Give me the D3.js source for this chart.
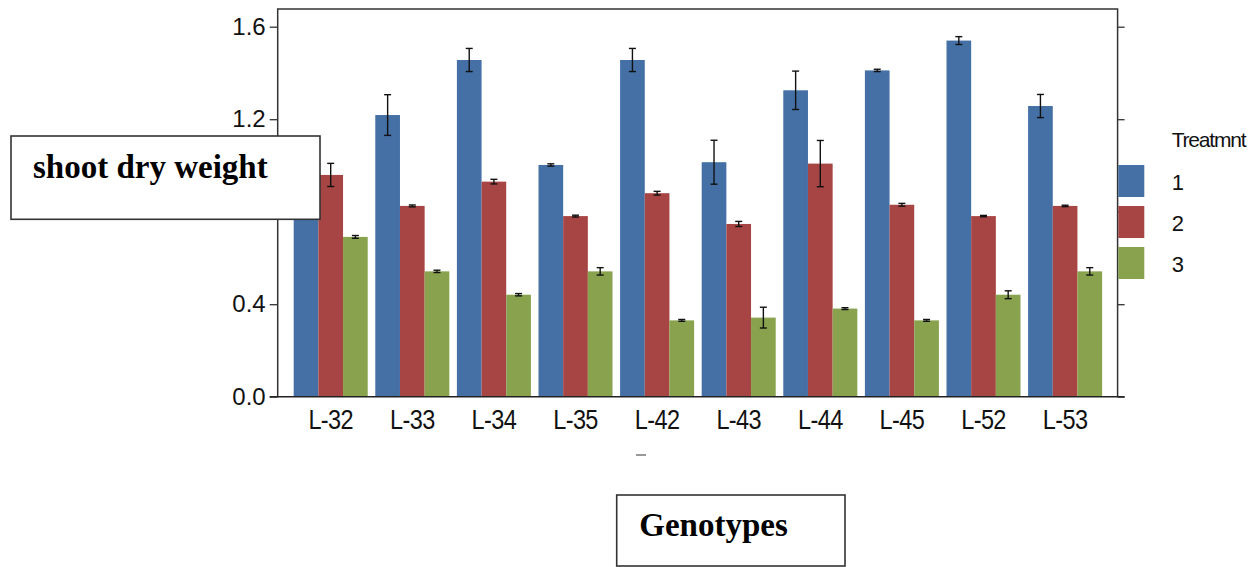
<!DOCTYPE html>
<html>
<head>
<meta charset="utf-8">
<script src="https://cdn.jsdelivr.net/npm/d3@7"></script>
<style>
  html, body { margin: 0; padding: 0; background: #fff; }
  svg { display: block; }
</style>
</head>
<body>
<svg id="chart" width="1260" height="567"></svg>
<script>
// Genotypes on the x axis
const genotypes = ["L-32", "L-33", "L-34", "L-35", "L-42", "L-43", "L-44", "L-45", "L-52", "L-53"];
const treatments = ["1", "2", "3"];

// Mean shoot dry weight per treatment
const treat1 = [1.00, 1.218, 1.456, 1.002, 1.456, 1.014, 1.325, 1.411, 1.540, 1.257];
const treat2 = [0.959, 0.825, 0.930, 0.781, 0.880, 0.747, 1.008, 0.830, 0.781, 0.825];
const treat3 = [0.691, 0.542, 0.441, 0.542, 0.330, 0.342, 0.381, 0.330, 0.441, 0.542];

// Error (± half-range) per treatment
const err1 = [0.05, 0.088, 0.050, 0.005, 0.050, 0.095, 0.083, 0.005, 0.017, 0.050];
const err2 = [0.05, 0.004, 0.010, 0.004, 0.008, 0.011, 0.100, 0.006, 0.003, 0.003];
const err3 = [0.006, 0.005, 0.005, 0.016, 0.004, 0.045, 0.004, 0.004, 0.017, 0.016];

const yTicks = [0.0, 0.4, 0.8, 1.2, 1.6];
const colors = ["#4470A6", "#A64544", "#88A24D"];

const svg = d3.select("#chart");

const plot = { left: 277.7, right: 1117.6, top: 9, bottom: 396.7 };

const y = d3.scaleLinear().domain([0, 1.6]).range([plot.bottom, 26.7]);
const x = d3.scaleBand().domain(genotypes)
  .range([289.9, 1105.9]).paddingInner(0.093).paddingOuter(0.0465);
const xs = d3.scaleBand().domain(treatments).range([0, x.bandwidth()]);

const series = [
  { key: "1", vals: treat1, errs: err1 },
  { key: "2", vals: treat2, errs: err2 },
  { key: "3", vals: treat3, errs: err3 }
];

// Bars
const groups = svg.append("g").selectAll("g")
  .data(genotypes).join("g")
  .attr("transform", d => `translate(${x(d)},0)`);

groups.each(function (g, gi) {
  const sel = d3.select(this);
  series.forEach((s, si) => {
    const v = s.vals[gi];
    sel.append("rect")
      .attr("x", xs(s.key))
      .attr("y", y(v))
      .attr("width", xs.bandwidth())
      .attr("height", y(0) - y(v))
      .attr("fill", colors[si]);
  });
});

// Error bars
groups.each(function (g, gi) {
  const sel = d3.select(this);
  series.forEach((s, si) => {
    const v = s.vals[gi], e = s.errs[gi];
    const cx = xs(s.key) + xs.bandwidth() / 2;
    const eb = sel.append("g").attr("stroke", "#111").attr("stroke-width", 1.4);
    eb.append("line").attr("x1", cx).attr("x2", cx).attr("y1", y(v - e)).attr("y2", y(v + e));
    eb.append("line").attr("x1", cx - 3.5).attr("x2", cx + 3.5).attr("y1", y(v - e)).attr("y2", y(v - e));
    eb.append("line").attr("x1", cx - 3.5).attr("x2", cx + 3.5).attr("y1", y(v + e)).attr("y2", y(v + e));
  });
});

const axisColor = "#333";

// Frame
svg.append("path")
  .attr("d", `M${plot.left},${plot.bottom}V${plot.top}H${plot.right}V${plot.bottom}`)
  .attr("fill", "none").attr("stroke", axisColor).attr("stroke-width", 1.5);
svg.append("line")
  .attr("x1", plot.left - 8).attr("x2", plot.right + 7)
  .attr("y1", plot.bottom).attr("y2", plot.bottom)
  .attr("stroke", "#222").attr("stroke-width", 1.6);

// Left axis
const yAxis = svg.append("g")
  .attr("transform", `translate(${plot.left},0)`)
  .call(d3.axisLeft(y).tickValues(yTicks).tickSize(8).tickSizeOuter(0).tickPadding(4)
    .tickFormat(d3.format(".1f")));
yAxis.select(".domain").remove();
yAxis.selectAll(".tick line").attr("stroke", axisColor).attr("stroke-width", 1.3);
yAxis.selectAll(".tick text")
  .attr("fill", "#111")
  .style("font-family", "'Liberation Sans', Arial, sans-serif")
  .style("font-size", "24px");

// Right axis (ticks only)
const yAxisR = svg.append("g")
  .attr("transform", `translate(${plot.right},0)`)
  .call(d3.axisRight(y).tickValues(yTicks).tickSize(7).tickSizeOuter(0).tickFormat(""));
yAxisR.select(".domain").remove();
yAxisR.selectAll(".tick line").attr("stroke", axisColor).attr("stroke-width", 1.3);

// Bottom axis labels
const xAxis = svg.append("g")
  .attr("transform", `translate(0,${plot.bottom})`)
  .call(d3.axisBottom(x).tickSize(0).tickSizeOuter(0));
xAxis.select(".domain").remove();
xAxis.selectAll(".tick text")
  .attr("y", 0).attr("dy", 0)
  .attr("transform", "translate(0,32.5) scale(1,1.2)")
  .attr("fill", "#111")
  .style("font-family", "'Liberation Sans', Arial, sans-serif")
  .style("font-size", "23.5px")
  .style("letter-spacing", "-0.6px");

// small dash below the axis
svg.append("line").attr("x1", 636).attr("x2", 646).attr("y1", 455).attr("y2", 455)
  .attr("stroke", "#555").attr("stroke-width", 1.2);

// Legend
const legend = svg.append("g");
legend.append("text")
  .attr("x", 1171.7).attr("y", 147)
  .text("Treatmnt")
  .attr("fill", "#111")
  .style("font-family", "'Liberation Sans', Arial, sans-serif")
  .style("font-size", "21px")
  .style("letter-spacing", "-1.2px");
treatments.forEach((t, i) => {
  const top = 165 + i * 41;
  legend.append("rect").attr("x", 1118.3).attr("y", top).attr("width", 26).attr("height", 32)
    .attr("fill", colors[i]);
  legend.append("text").attr("x", 1171.7).attr("y", top + 24.5).text(t)
    .attr("fill", "#111")
    .style("font-family", "'Liberation Sans', Arial, sans-serif")
    .style("font-size", "22px");
});

// Y title box
svg.append("rect").attr("x", 11).attr("y", 136).attr("width", 309).attr("height", 83.3)
  .attr("fill", "#fff").attr("stroke", "#333").attr("stroke-width", 1.6);
svg.append("text")
  .attr("x", 33).attr("y", 178)
  .text("shoot dry weight")
  .attr("fill", "#000")
  .style("font-family", "'Liberation Serif', 'Times New Roman', serif")
  .style("font-weight", "bold")
  .style("font-size", "33px");

// X title box
svg.append("rect").attr("x", 616.7).attr("y", 495).attr("width", 228.3).attr("height", 71)
  .attr("fill", "#fff").attr("stroke", "#333").attr("stroke-width", 1.6);
svg.append("text")
  .attr("x", 639.3).attr("y", 536)
  .text("Genotypes")
  .attr("fill", "#000")
  .style("font-family", "'Liberation Serif', 'Times New Roman', serif")
  .style("font-weight", "bold")
  .style("font-size", "33px");
</script>
</body>
</html>
